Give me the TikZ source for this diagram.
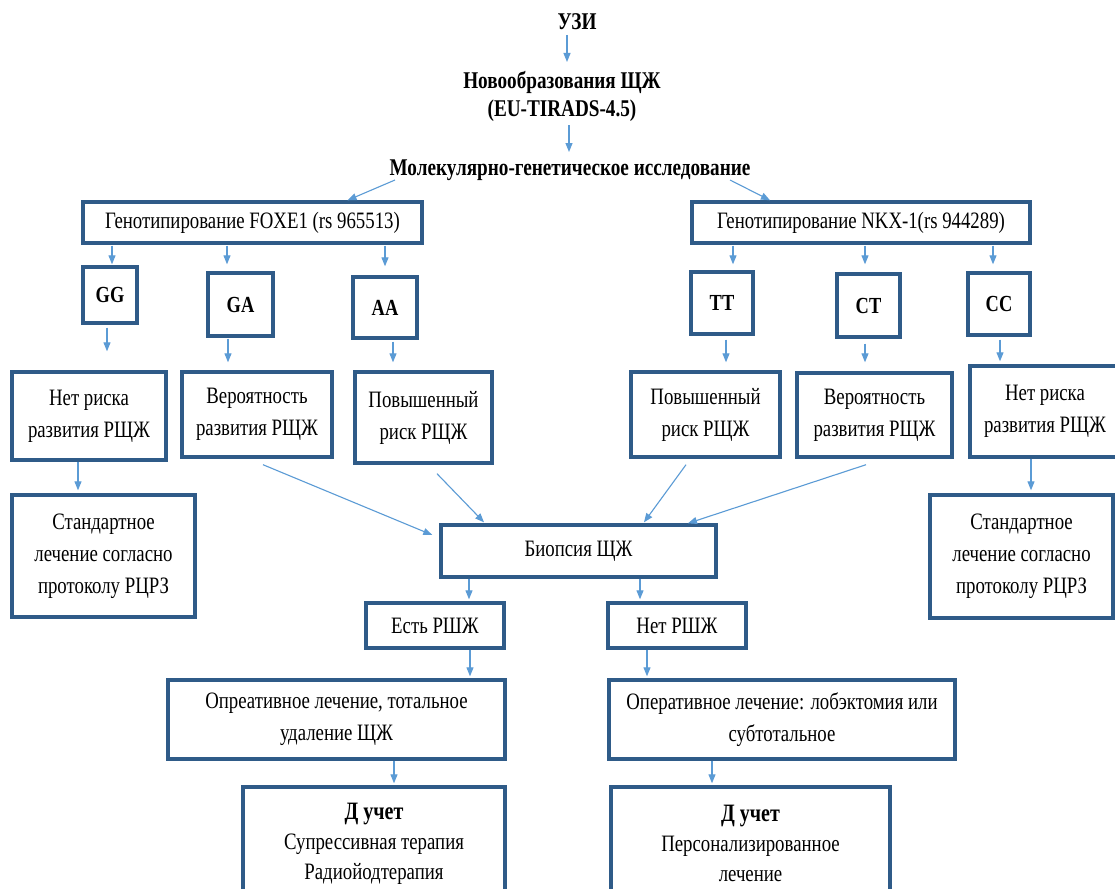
\documentclass[tikz,border=0pt]{standalone}
\usepackage{fontspec}
\setmainfont{Liberation Serif}[FakeStretch=0.8]
\usetikzlibrary{arrows.meta,calc}
\definecolor{boxc}{HTML}{2F5B88}
\definecolor{arrc}{HTML}{5B9BD5}
\tikzset{
  box/.style={draw=boxc, line width=3.4pt, align=center, inner sep=0pt, fill=white,
    font=\fontsize{23.5}{32}\selectfont},
  gbox/.style={box, font=\fontsize{23}{26}\selectfont\bfseries},
  head/.style={align=center, inner sep=0pt, font=\fontsize{24}{28}\selectfont\bfseries},
  arr/.style={draw=arrc, line width=1.1pt, -{Triangle[length=9pt,width=7pt]}}
}
\begin{document}
\begin{tikzpicture}[x=1pt,y=-1pt]
\useasboundingbox (0,0) rectangle (1115,888);
\clip (0,0) rectangle (1115,888);
\fill[white] (0,0) rectangle (1115,888);
% headings
\node[head] (uzi) at (577,22) {УЗИ};
\node[head] (novo) at (562,96) {Новообразования ЩЖ\\(EU-TIRADS-4.5)};
\node[head] (mol) at (570,170) {Молекулярно-генетическое исследование};
% genotyping
\node[box, minimum width=339pt, minimum height=41pt] (foxe) at (252.5,222.5) {\raisebox{-4pt}{Генотипирование FOXE1 (rs 965513)}};
\node[box, minimum width=338pt, minimum height=41pt] (nkx) at (861,222.5) {\raisebox{-4pt}{Генотипирование NKX-1(rs 944289)}};
% genotype boxes
\node[gbox, minimum width=54pt, minimum height=56pt] (gg) at (110,295) {GG};
\node[gbox, minimum width=65pt, minimum height=63pt] (ga) at (240.5,304.5) {GA};
\node[gbox, minimum width=64pt, minimum height=61pt] (aa) at (385,307.5) {AA};
\node[gbox, minimum width=62pt, minimum height=62pt] (tt) at (722,303) {TT};
\node[gbox, minimum width=63pt, minimum height=63pt] (ct) at (868.5,305.5) {CT};
\node[gbox, minimum width=62pt, minimum height=62pt] (cc) at (999,304) {CC};
% risk boxes
\node[box, minimum width=154pt, minimum height=88pt] (net1) at (89,416) {Нет риска\\развития РЩЖ};
\node[box, minimum width=150pt, minimum height=85pt] (ver1) at (257,414.5) {Вероятность\\развития РЩЖ};
\node[box, minimum width=137pt, minimum height=91pt] (pov1) at (423.5,417.5) {Повышенный\\риск РЩЖ};
\node[box, minimum width=149pt, minimum height=85pt] (pov2) at (705.5,414.5) {Повышенный\\риск РЩЖ};
\node[box, minimum width=155pt, minimum height=84pt] (ver2) at (874.5,415) {Вероятность\\развития РЩЖ};
\node[box, minimum width=150pt, minimum height=91pt] (net2) at (1045,411.5) {Нет риска\\развития РЩЖ};
% standard
\node[box, minimum width=183pt, minimum height=122pt] (std1) at (103.5,556) {Стандартное\\лечение согласно\\протоколу РЦРЗ};
\node[box, minimum width=183pt, minimum height=123pt] (std2) at (1021.5,556.5) {Стандартное\\лечение согласно\\протоколу РЦРЗ};
% biopsy
\node[box, minimum width=275pt, minimum height=52pt] (bio) at (578.5,551) {Биопсия ЩЖ};
\node[box, minimum width=138pt, minimum height=45pt] (est) at (435,625.5) {Есть РШЖ};
\node[box, minimum width=138pt, minimum height=45pt] (net) at (677,625.5) {Нет РШЖ};
\node[box, minimum width=337pt, minimum height=79pt] (op1) at (336.5,719.5) {Опреативное лечение, тотальное\\удаление ЩЖ};
\node[box, minimum width=346pt, minimum height=79pt] (op2) at (782,719.5) {Оперативное лечение: лобэктомия или\\субтотальное};
\node[box, minimum width=262pt, minimum height=113pt, font=\fontsize{23.5}{30}\selectfont] (d1) at (374,843.5) {{\fontsize{25}{30}\selectfont\bfseries Д учет}\\Супрессивная терапия\\Радиойодтерапия};
\node[box, minimum width=279pt, minimum height=113pt, font=\fontsize{23.5}{30}\selectfont] (d2) at (750.5,843.5) {{\fontsize{25}{30}\selectfont\bfseries Д учет}\\Персонализированное\\лечение};
% arrows
\draw[arr] ($(uzi.center)+(-10,13)$) -- ($(novo.center)+(5,-34)$);
\draw[arr] ($(novo.center)+(7,29)$) -- ($(mol.center)+(-1,-18)$);
\draw[arr] ($(mol.center)+(-175,10)$) -- ($(foxe.north)+(95,0)$);
\draw[arr] ($(mol.center)+(160,10)$) -- ($(nkx.north)+(-91,0)$);
\draw[arr] ($(foxe.south)+(-140.5,1)$) -- ($(gg.north)+(2,-1)$);
\draw[arr] ($(foxe.south)+(-25.5,1)$) -- ($(ga.north)+(-13.5,-7)$);
\draw[arr] ($(foxe.south)+(132.5,1)$) -- ($(aa.north)+(0,-9)$);
\draw[arr] ($(nkx.south)+(-128,1)$) -- ($(tt.north)+(11,-6)$);
\draw[arr] ($(nkx.south)+(4,1)$) -- ($(ct.north)+(-3.5,-8)$);
\draw[arr] ($(nkx.south)+(132,1)$) -- ($(cc.north)+(-6,-7)$);
\draw[arr] ($(gg.south)+(-3,3)$) -- ($(net1.north)+(18,-19)$);
\draw[arr] ($(ga.south)+(-12.5,1)$) -- ($(ver1.north)+(-29,-8)$);
\draw[arr] ($(aa.south)+(8,2)$) -- ($(pov1.north)+(-30.5,-8)$);
\draw[arr] ($(tt.south)+(4,4)$) -- ($(pov2.north)+(20.5,-8)$);
\draw[arr] ($(ct.south)+(-3.5,5)$) -- ($(ver2.north)+(-9.5,-9)$);
\draw[arr] ($(cc.south)+(1,3)$) -- ($(net2.north)+(-45,-3)$);
\draw[arr] ($(net1.south)+(-11,0)$) -- ($(std1.north)+(-25.5,-3)$);
\draw[arr] ($(net2.south)+(-14,0)$) -- ($(std2.north)+(9.5,-3)$);
\draw[arr] ($(ver1.south)+(6,6)$) -- ($(bio.west)+(-7,-16)$);
\draw[arr] ($(pov1.south)+(13.5,9)$) -- ($(bio.north)+(-94.5,-1)$);
\draw[arr] ($(pov2.south)+(-19.5,6)$) -- ($(bio.north)+(65.5,-1)$);
\draw[arr] ($(ver2.south)+(-8.5,6)$) -- ($(bio.north)+(109.5,0)$);
\draw[arr] ($(bio.south)+(-109.5,0)$) -- ($(est.north)+(34,-2)$);
\draw[arr] ($(bio.south)+(61.5,0)$) -- ($(net.north)+(-37,-2)$);
\draw[arr] ($(est.south)+(35,0)$) -- ($(op1.north)+(133.5,-2)$);
\draw[arr] ($(net.south)+(-30,0)$) -- ($(op2.north)+(-135,-2)$);
\draw[arr] ($(op1.south)+(57.5,0)$) -- ($(d1.north)+(20,-2)$);
\draw[arr] ($(op2.south)+(-70,0)$) -- ($(d2.north)+(-38.5,-2)$);
\end{tikzpicture}
\end{document}
